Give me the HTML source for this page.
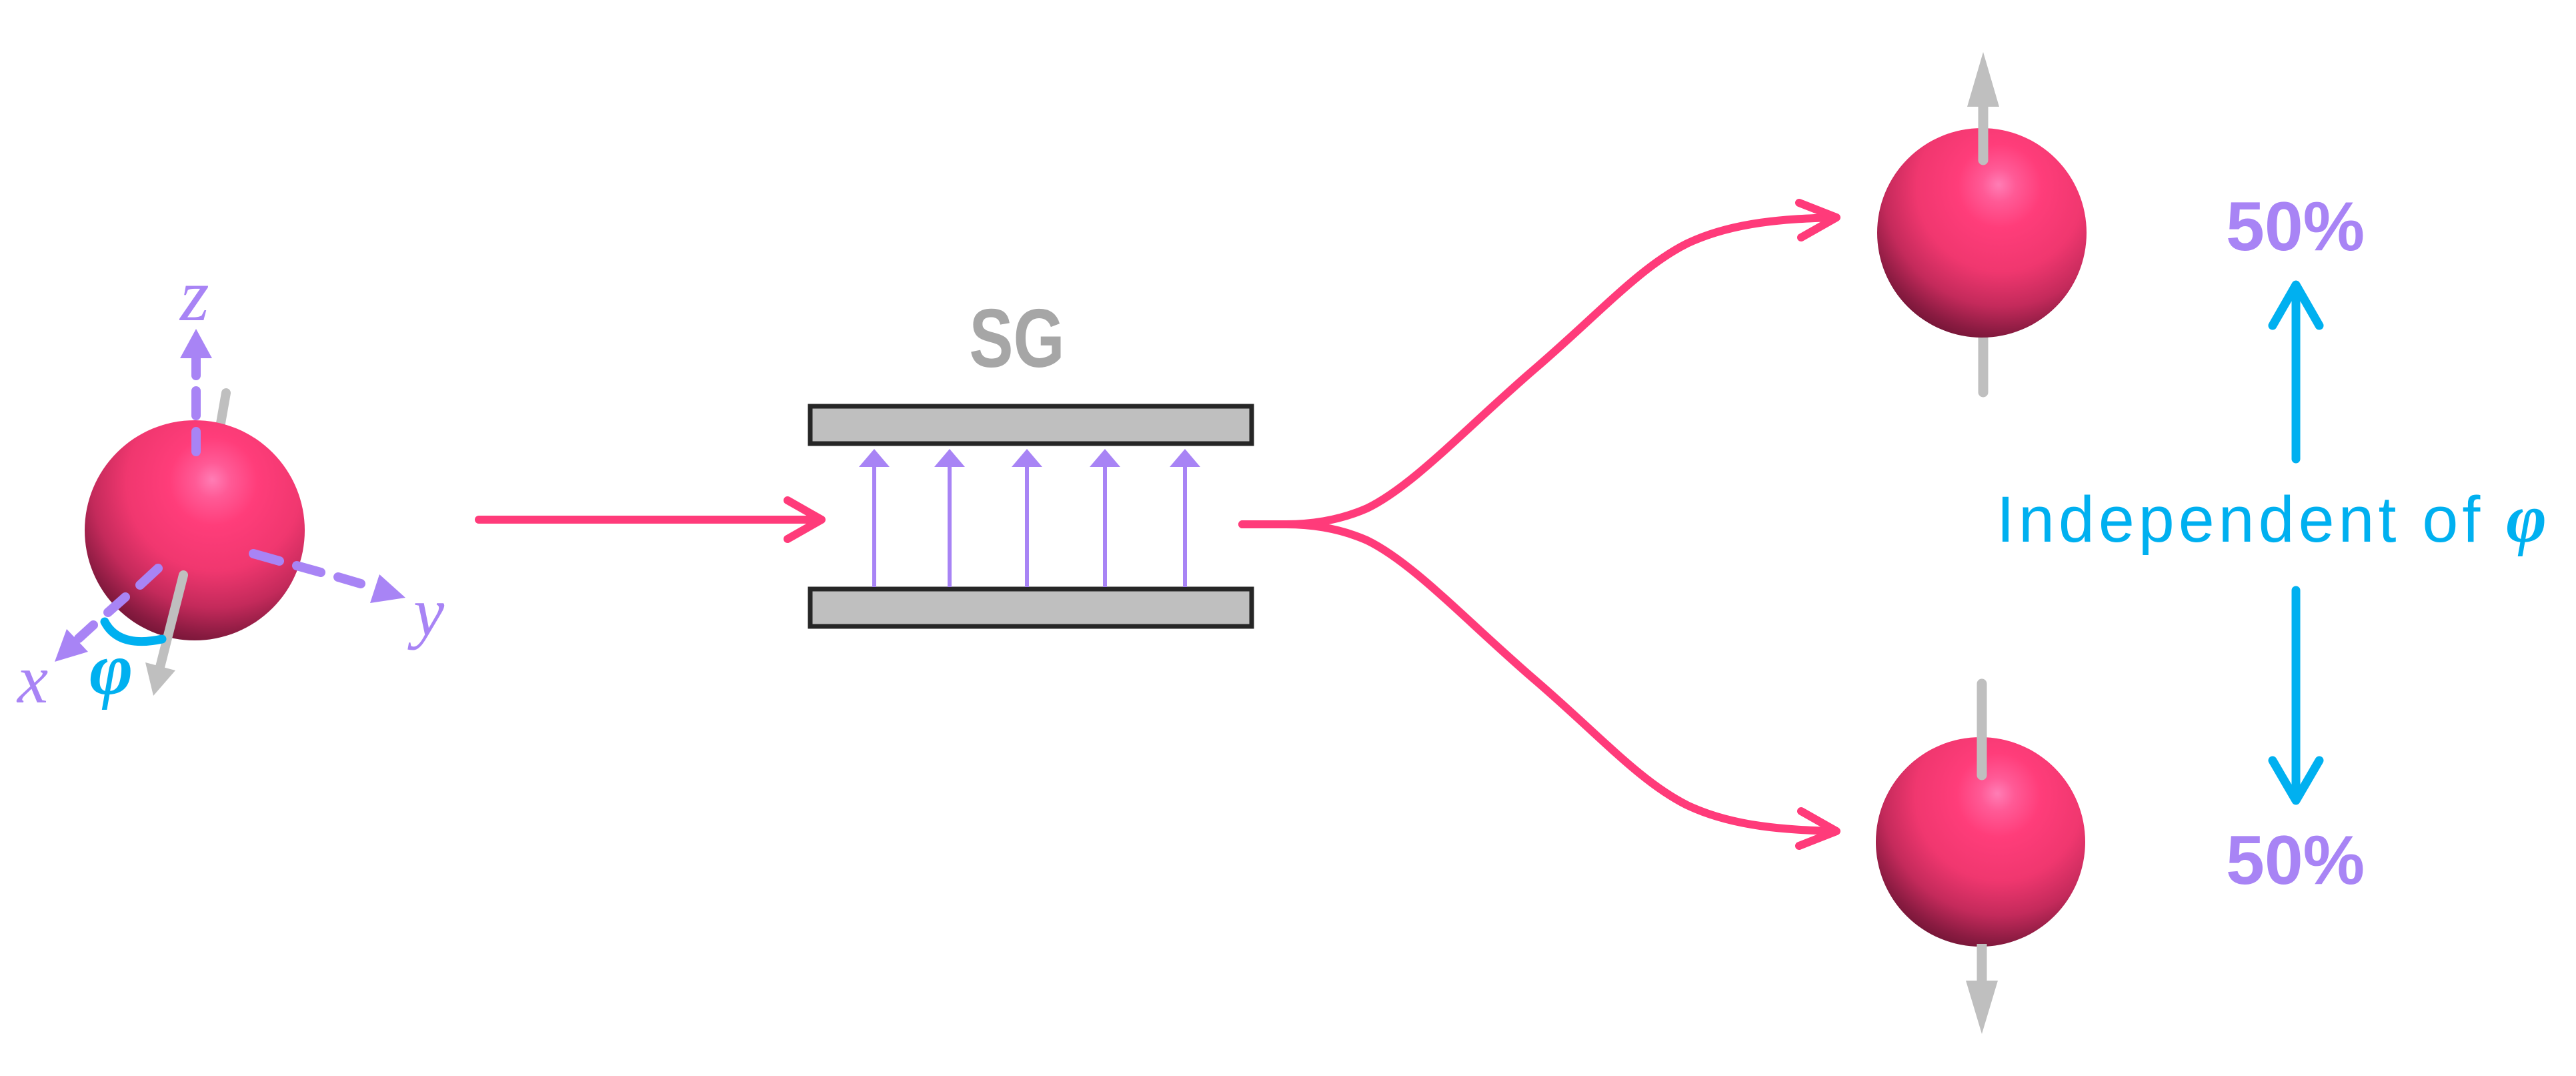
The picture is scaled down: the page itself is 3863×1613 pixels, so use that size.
<!DOCTYPE html>
<html><head><meta charset="utf-8"><style>
html,body{margin:0;padding:0;background:#fff;}
svg{display:block;}
</style></head><body>
<svg width="3863" height="1613" viewBox="0 0 3863 1613" xmlns="http://www.w3.org/2000/svg">
<defs>
<radialGradient id="sph" cx="0.6" cy="0.3" r="0.8" fx="0.58" fy="0.27">
<stop offset="0" stop-color="#ff7db5"/>
<stop offset="0.1" stop-color="#ff5a96"/>
<stop offset="0.25" stop-color="#ff3d7a"/>
<stop offset="0.5" stop-color="#f0376f"/>
<stop offset="0.7" stop-color="#c42a5b"/>
<stop offset="0.85" stop-color="#8a1b41"/>
<stop offset="1" stop-color="#5a0f2a"/>
</radialGradient>
</defs>

<line x1="339" y1="589" x2="330" y2="640" stroke="#bfbfbf" stroke-width="14" stroke-linecap="round"/>
<circle cx="292" cy="795" r="165" fill="url(#sph)"/>
<g stroke="#a884f5" stroke-width="14" stroke-linecap="round" fill="none">
<line x1="294" y1="537" x2="294" y2="563"/>
<line x1="294" y1="586" x2="294" y2="623"/>
<line x1="294" y1="647" x2="294" y2="677"/>
<line x1="380" y1="830" x2="419" y2="841"/>
<line x1="445" y1="848" x2="481" y2="858"/>
<line x1="507" y1="865" x2="541" y2="875"/>
<line x1="237" y1="852" x2="210" y2="877"/>
<line x1="188" y1="895" x2="162" y2="918"/>
<line x1="140" y1="937" x2="118" y2="957"/>
</g>
<polygon points="294,493 270,537 318,537" fill="#a884f5"/>
<polygon points="608,896 569,861 555,904" fill="#a884f5"/>
<polygon points="82,992 100,943 132,977" fill="#a884f5"/>
<line x1="275" y1="862" x2="240" y2="1000" stroke="#bfbfbf" stroke-width="14" stroke-linecap="round"/>
<polygon points="230,1043 218,993 263,1005" fill="#bfbfbf"/>
<path d="M157,932 Q178,972 243,958" stroke="#00b0f0" stroke-width="13" stroke-linecap="round" fill="none"/>
<g font-family="Liberation Serif, serif" font-style="italic" fill="#a884f5">
<text x="270" y="480" font-size="112">z</text>
<text x="620" y="952" font-size="104">y</text>
<text x="26" y="1053" font-size="104">x</text>
</g>
<text x="134" y="1040" font-family="Liberation Serif, serif" font-style="italic" font-weight="bold" font-size="112" fill="#00b0f0">φ</text>

<g stroke="#ff3b7a" stroke-width="12" stroke-linecap="round" stroke-linejoin="round" fill="none">
<line x1="718" y1="779" x2="1230" y2="779"/>
<polyline points="1181,750 1232,779 1181,808"/>
</g>

<text transform="translate(1525,550) scale(0.8,1)" text-anchor="middle" font-family="Liberation Sans, sans-serif" font-weight="bold" font-size="124" fill="#a6a6a6">SG</text>
<rect x="1215" y="609" width="662" height="56" fill="#bfbfbf" stroke="#262626" stroke-width="7"/>
<rect x="1215" y="883" width="662" height="56" fill="#bfbfbf" stroke="#262626" stroke-width="7"/>
<g stroke="#a884f5" stroke-width="6">
<line x1="1311" y1="880" x2="1311" y2="698"/>
<line x1="1424" y1="880" x2="1424" y2="698"/>
<line x1="1540" y1="880" x2="1540" y2="698"/>
<line x1="1657" y1="880" x2="1657" y2="698"/>
<line x1="1777" y1="880" x2="1777" y2="698"/>
</g>
<g fill="#a884f5">
<polygon points="1311,673 1288,700 1334,700"/>
<polygon points="1424,673 1401,700 1447,700"/>
<polygon points="1540,673 1517,700 1563,700"/>
<polygon points="1657,673 1634,700 1680,700"/>
<polygon points="1777,673 1754,700 1800,700"/>
</g>

<g stroke="#ff3b7a" stroke-width="12" stroke-linecap="round" stroke-linejoin="round" fill="none">
<path d="M1863,786 L1929,786 C1985,786 2025,773 2050,762 C2120,728 2200,640 2305,550 C2400,468 2460,400 2530,365 C2600,332 2680,328 2752,326"/>
<polyline points="2698,304 2754,326 2701,356"/>
<path d="M1863,786 L1929,786 C1985,786 2025,799 2050,810 C2120,844 2200,932 2305,1022 C2400,1104 2460,1172 2530,1207 C2600,1240 2680,1244 2752,1246"/>
<polyline points="2698,1268 2754,1246 2701,1216"/>
</g>

<line x1="2974" y1="505" x2="2974" y2="588" stroke="#bfbfbf" stroke-width="15" stroke-linecap="round"/>
<circle cx="2972" cy="349" r="157" fill="url(#sph)"/>
<line x1="2974" y1="150" x2="2974" y2="240" stroke="#bfbfbf" stroke-width="15" stroke-linecap="round"/>
<polygon points="2974,78 2950,160 2998,160" fill="#bfbfbf"/>

<circle cx="2970" cy="1262" r="157" fill="url(#sph)"/>
<line x1="2972" y1="1025" x2="2972" y2="1162" stroke="#bfbfbf" stroke-width="15" stroke-linecap="round"/>
<line x1="2972" y1="1415" x2="2972" y2="1475" stroke="#bfbfbf" stroke-width="15"/>
<polygon points="2972,1550 2948,1470 2996,1470" fill="#bfbfbf"/>

<g font-family="Liberation Sans, sans-serif" font-weight="bold" font-size="104" fill="#a884f5">
<text x="3338" y="375">50%</text>
<text x="3338" y="1325">50%</text>
</g>
<text x="2994" y="812" font-family="Liberation Sans, sans-serif" font-size="97" letter-spacing="6" fill="#00b0f0">Independent of <tspan font-family="Liberation Serif, serif" font-style="italic" font-weight="bold" font-size="104">φ</tspan></text>
<g stroke="#00b0f0" stroke-width="13" stroke-linecap="round" stroke-linejoin="round" fill="none">
<line x1="3443" y1="688" x2="3443" y2="430"/>
<polyline points="3408,488 3443,427 3478,488"/>
<line x1="3443" y1="885" x2="3443" y2="1198"/>
<polyline points="3408,1140 3443,1200 3478,1140"/>
</g>
</svg>
</body></html>
